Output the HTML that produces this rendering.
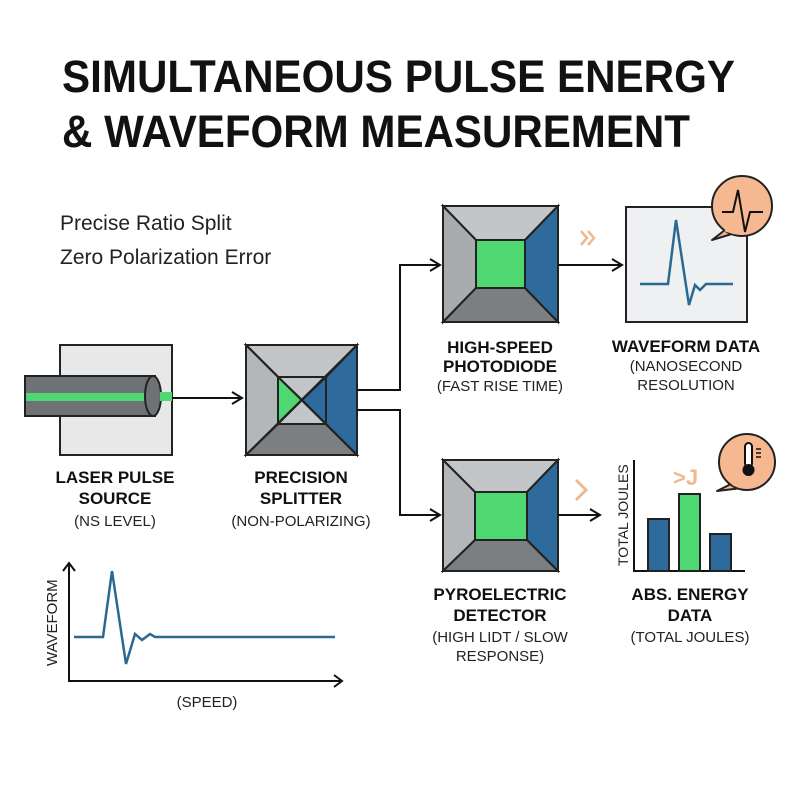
<!DOCTYPE html>
<html><head><meta charset="utf-8"><style>
body{margin:0;background:#fff}
svg{display:block}
text{font-family:"Liberation Sans",sans-serif}
.b{font-weight:bold;font-size:17px;fill:#111}
.n{font-size:15px;fill:#222}
</style></head><body>
<svg width="800" height="800" viewBox="0 0 800 800" xmlns="http://www.w3.org/2000/svg">
<rect width="800" height="800" fill="#fff"/>
<defs>
<marker id="ar" markerWidth="14" markerHeight="14" refX="12" refY="7" orient="auto" markerUnits="userSpaceOnUse">
<path d="M2,1 L12,7 L2,13" fill="none" stroke="#111" stroke-width="2"/></marker>
</defs>
<text x="62" y="92" font-size="45" font-weight="bold" fill="#111" textLength="673" lengthAdjust="spacingAndGlyphs">SIMULTANEOUS PULSE ENERGY</text>
<text x="62" y="147" font-size="45" font-weight="bold" fill="#111" textLength="628" lengthAdjust="spacingAndGlyphs">&amp; WAVEFORM MEASUREMENT</text>
<text x="60" y="230" font-size="21" fill="#222">Precise Ratio Split</text>
<text x="60" y="264" font-size="21" fill="#222">Zero Polarization Error</text>

<!-- laser -->
<rect x="60" y="345" width="112" height="110" fill="#e8e8e8" stroke="#222" stroke-width="2"/>
<rect x="25" y="376" width="130" height="40" fill="#6f7275" stroke="#222" stroke-width="2"/>
<rect x="26" y="393" width="125" height="8" fill="#4fd872"/>
<ellipse cx="153" cy="396" rx="8" ry="20" fill="#6f7275" stroke="#222" stroke-width="2"/>
<rect x="160" y="392" width="12" height="9" fill="#4fd872"/>
<line x1="172" y1="398" x2="242" y2="398" stroke="#111" stroke-width="2" marker-end="url(#ar)"/>

<!-- splitter -->
<g stroke="#222" stroke-width="2">
<rect x="246" y="345" width="111" height="110" fill="#9a9da0"/>
<polygon points="246,345 357,345 326,377 278,377" fill="#c3c6c9"/>
<polygon points="246,345 278,377 278,424 246,455" fill="#b4b7ba"/>
<polygon points="246,455 278,424 326,424 357,455" fill="#7c7f82"/>
<polygon points="357,345 326,377 326,424 357,455" fill="#2e6a9c"/>
<rect x="278" y="377" width="48" height="47" fill="#c3c6c9"/>
<polygon points="278,377 302,400 278,424" fill="#4fd872"/>
<polygon points="326,377 302,400 326,424" fill="#2e6a9c"/>
<line x1="246" y1="345" x2="357" y2="455"/><line x1="357" y1="345" x2="246" y2="455"/>
</g>
<polyline points="357,390 400,390 400,265 440,265" fill="none" stroke="#111" stroke-width="2" marker-end="url(#ar)"/>
<polyline points="357,410 400,410 400,515 440,515" fill="none" stroke="#111" stroke-width="2" marker-end="url(#ar)"/>

<!-- photodiode -->
<g stroke="#222" stroke-width="2">
<rect x="443" y="206" width="115" height="116" fill="#8a8d90"/>
<polygon points="443,206 558,206 525,240 476,240" fill="#c3c6c9"/>
<polygon points="443,206 476,240 476,288 443,322" fill="#a9acaf"/>
<polygon points="443,322 476,288 525,288 558,322" fill="#7c7f82"/>
<polygon points="558,206 525,240 525,288 558,322" fill="#2e6a9c"/>
<rect x="476" y="240" width="49" height="48" fill="#4fd872"/>
</g>
<line x1="558" y1="265" x2="622" y2="265" stroke="#111" stroke-width="2" marker-end="url(#ar)"/>
<path d="M581,231 L587,238 L581,245 M588,231 L594,238 L588,245" fill="none" stroke="#f0b890" stroke-width="2.5"/>

<!-- waveform box -->
<rect x="626" y="207" width="121" height="115" fill="#eef0f1" stroke="#222" stroke-width="2"/>
<polyline points="640,284 668,284 676,220 689,305 695,285 700,290 706,284 733,284" fill="none" stroke="#2a6a92" stroke-width="2.5"/>
<path d="M725,230 L712,240 L735,233 Z" fill="#f6b890" stroke="#222" stroke-width="2" stroke-linejoin="round"/>
<circle cx="742" cy="206" r="30" fill="#f6b890" stroke="#222" stroke-width="2"/>
<path d="M725,230 L735,233" stroke="#f6b890" stroke-width="3"/>
<polyline points="722,212 733,212 738,190 745,232 750,212 763,212" fill="none" stroke="#111" stroke-width="2"/>

<!-- pyro -->
<g stroke="#222" stroke-width="2">
<rect x="443" y="460" width="115" height="111" fill="#8a8d90"/>
<polygon points="443,460 558,460 527,492 475,492" fill="#c3c6c9"/>
<polygon points="443,460 475,492 475,540 443,571" fill="#b4b7ba"/>
<polygon points="443,571 475,540 527,540 558,571" fill="#7c7f82"/>
<polygon points="558,460 527,492 527,540 558,571" fill="#2e6a9c"/>
<rect x="475" y="492" width="52" height="48" fill="#4fd872"/>
</g>
<line x1="558" y1="515" x2="600" y2="515" stroke="#111" stroke-width="2" marker-end="url(#ar)"/>
<path d="M576,480 L586,490 L576,500" fill="none" stroke="#f0b890" stroke-width="3"/>

<!-- chart -->
<polyline points="634,460 634,571 745,571" fill="none" stroke="#111" stroke-width="2"/>
<rect x="648" y="519" width="21" height="52" fill="#2e6a9c" stroke="#222" stroke-width="2"/>
<rect x="679" y="494" width="21" height="77" fill="#4fd872" stroke="#222" stroke-width="2"/>
<rect x="710" y="534" width="21" height="37" fill="#2e6a9c" stroke="#222" stroke-width="2"/>
<text transform="translate(628,566) rotate(-90)" font-size="14" fill="#222">TOTAL JOULES</text>
<text x="673" y="485" font-size="22" font-weight="bold" fill="#f0b890">&gt;J</text>
<path d="M733,483 L717,491 L742,488 Z" fill="#f6b890" stroke="#222" stroke-width="2" stroke-linejoin="round"/>
<circle cx="747" cy="462" r="28" fill="#f6b890" stroke="#222" stroke-width="2"/>
<path d="M733,484 L741,487" stroke="#f6b890" stroke-width="3"/>
<rect x="745" y="443" width="7" height="24" rx="3.5" fill="#fff" stroke="#111" stroke-width="2"/>
<circle cx="748.5" cy="470" r="6" fill="#111"/>
<path d="M756,449 h5 M756,453 h5 M756,457 h5" stroke="#111" stroke-width="1.5"/>

<!-- labels -->
<g text-anchor="middle">
<text class="b" x="115" y="483">LASER PULSE</text>
<text class="b" x="115" y="504">SOURCE</text>
<text class="n" x="115" y="526">(NS LEVEL)</text>
<text class="b" x="301" y="483">PRECISION</text>
<text class="b" x="301" y="504">SPLITTER</text>
<text class="n" x="301" y="526">(NON-POLARIZING)</text>
<text class="b" x="500" y="353">HIGH-SPEED</text>
<text class="b" x="500" y="372">PHOTODIODE</text>
<text class="n" x="500" y="391">(FAST RISE TIME)</text>
<text class="b" x="686" y="352">WAVEFORM DATA</text>
<text class="n" x="686" y="371">(NANOSECOND</text>
<text class="n" x="686" y="390">RESOLUTION</text>
<text class="b" x="500" y="600">PYROELECTRIC</text>
<text class="b" x="500" y="621">DETECTOR</text>
<text class="n" x="500" y="642">(HIGH LIDT / SLOW</text>
<text class="n" x="500" y="661">RESPONSE)</text>
<text class="b" x="690" y="600">ABS. ENERGY</text>
<text class="b" x="690" y="621">DATA</text>
<text class="n" x="690" y="642">(TOTAL JOULES)</text>
<text class="n" x="207" y="707">(SPEED)</text>
</g>

<!-- bottom plot -->
<polyline points="69,563 69,681 342,681" fill="none" stroke="#111" stroke-width="2"/>
<path d="M63,571 L69,563 L75,571 M334,675 L342,681 L334,687" fill="none" stroke="#111" stroke-width="2"/>
<text transform="translate(57,666) rotate(-90)" font-size="15" fill="#222">WAVEFORM</text>
<polyline points="74,637 103,637 112,571 126,664 135,634 142,640 150,634 155,637 335,637" fill="none" stroke="#2a6a92" stroke-width="2.5"/>
</svg>
</body></html>
